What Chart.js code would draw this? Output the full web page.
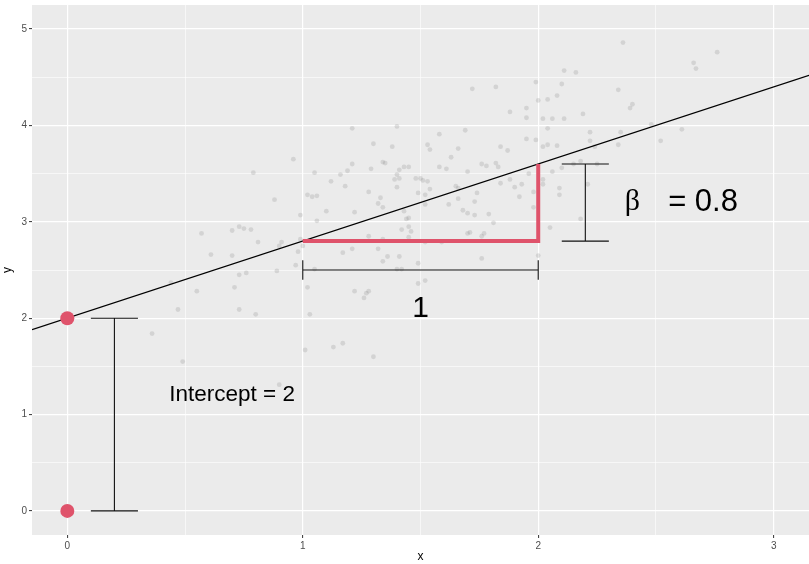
<!DOCTYPE html>
<html>
<head>
<meta charset="utf-8">
<script src="https://cdn.jsdelivr.net/npm/chart.js@4.4.1/dist/chart.umd.min.js"></script>
<style>
  html, body { margin: 0; padding: 0; background: #fff; }
  #cadre { width: 809px; height: 564px; }
</style>
</head>
<body>
<div id="cadre"><canvas id="graphique"></canvas></div>
<script>
/* Régression simple : nuage simulé, droite y = 2 + 0.8x, ordonnée à l'origine et pente */

const simX = [
  0.36, 0.44, 0.47, 0.49, 0.55, 0.57, 0.61, 0.70, 0.70, 0.71,
  0.73, 0.73, 0.73, 0.75, 0.76, 0.78, 0.79, 0.80, 0.81, 0.88,
  0.89, 0.90, 0.90, 0.91, 0.96, 0.97, 0.98, 0.99, 0.99, 1.00,
  1.01, 1.02, 1.03, 1.05, 1.05, 1.06, 1.10, 1.02, 1.04, 1.06,
  1.12, 1.13, 1.16, 1.17, 1.17, 1.18, 1.19, 1.21, 1.21, 1.21,
  1.22, 1.22, 1.26, 1.27, 1.28, 1.28, 1.28, 1.29, 1.30, 1.30,
  1.32, 1.32, 1.33, 1.34, 1.34, 1.34, 1.34, 1.35, 1.36, 1.38,
  1.39, 1.40, 1.40, 1.40, 1.40, 1.41, 1.41, 1.41, 1.42, 1.42,
  1.43, 1.43, 1.44, 1.45, 1.45, 1.45, 1.45, 1.46, 1.48, 1.49,
  1.49, 1.49, 1.50, 1.51, 1.52, 1.52, 1.52, 1.52, 1.53, 1.53,
  1.54, 1.54, 1.58, 1.58, 1.59, 1.61, 1.62, 1.63, 1.65, 1.66,
  1.66, 1.66, 1.68, 1.69, 1.70, 1.70, 1.70, 1.71, 1.72, 1.73,
  1.73, 1.74, 1.76, 1.76, 1.76, 1.77, 1.78, 1.79, 1.81, 1.82,
  1.82, 1.83, 1.84, 1.84, 1.87, 1.88, 1.88, 1.90, 1.92, 1.93,
  1.95, 1.95, 1.95, 1.96, 1.98, 1.98, 1.99, 1.99, 2.00, 2.00,
  2.02, 2.02, 2.02, 2.02, 2.04, 2.04, 2.04, 2.05, 2.06, 2.06,
  2.08, 2.08, 2.09, 2.09, 2.10, 2.10, 2.11, 2.11, 2.15, 2.16,
  2.18, 2.18, 2.19, 2.21, 2.22, 2.22, 2.24, 2.25, 2.34, 2.34,
  2.35, 2.36, 2.39, 2.40, 2.48, 2.52, 2.61, 2.66, 2.67, 2.76
];
const simY = [
  1.84, 2.37, 2.09, 1.55, 2.28, 2.88, 2.66, 2.91, 2.65, 2.32,
  2.95, 2.45, 2.09, 2.93, 2.47, 2.92, 3.51, 2.04, 2.79, 3.23,
  2.49, 2.75, 1.31, 2.79, 3.65, 2.55, 2.69, 2.82, 3.07, 2.75,
  1.67, 2.32, 2.04, 2.51, 3.51, 3.01, 3.11, 3.28, 3.26, 3.27,
  3.42, 1.70, 3.49, 2.68, 1.74, 3.37, 3.53, 3.97, 3.60, 2.72,
  3.10, 2.28, 2.21, 2.26, 3.31, 2.85, 2.28, 3.55, 1.60, 3.81,
  2.72, 3.19, 3.25, 3.62, 2.59, 2.82, 3.15, 3.61, 2.64, 3.78,
  3.44, 2.51, 3.99, 3.36, 3.49, 3.54, 3.45, 2.64, 2.51, 2.92,
  3.11, 3.57, 3.03, 2.95, 3.04, 2.84, 3.57, 2.90, 3.45, 2.36,
  3.30, 2.57, 3.45, 3.43, 3.18, 2.79, 3.28, 2.39, 3.80, 3.42,
  3.34, 3.75, 3.91, 3.57, 2.79, 3.55, 3.18, 3.67, 3.37, 3.35,
  3.76, 3.24, 3.12, 3.95, 3.52, 2.88, 3.09, 2.89, 4.38, 3.21,
  3.07, 3.30, 2.62, 3.60, 2.85, 2.88, 3.58, 3.08, 2.99, 4.40,
  3.61, 3.57, 3.78, 3.40, 3.74, 3.44, 4.14, 3.36, 3.26, 3.39,
  4.18, 3.86, 4.08, 3.50, 3.31, 3.15, 4.45, 3.85, 2.65, 4.26,
  3.39, 4.07, 3.44, 3.78, 3.97, 4.27, 3.80, 2.94, 4.07, 3.52,
  4.31, 3.79, 3.28, 3.35, 4.43, 3.56, 4.57, 4.07, 3.60, 4.55,
  3.03, 3.63, 4.12, 3.39, 3.93, 3.84, 3.78, 3.60, 3.80, 4.37,
  3.93, 4.86, 4.18, 4.22, 4.01, 3.84, 3.96, 4.65, 4.59, 4.76
];

const ordonnee = 2;
const pente = 0.8;

const xTicks = [0, 1, 2, 3];
const yTicks = [0, 1, 2, 3, 4, 5];
const xMinor = [0.5, 1.5, 2.5];
const yMinor = [0.5, 1.5, 2.5, 3.5, 4.5];
const xLimites = [-0.15, 3.15];
const yLimites = [-0.25, 5.25];

// points rouges : (0,0) et (0, ordonnée)
const rougeX = [0, 0];
const rougeY = [0, ordonnee];

// angle de la pente
const angleX = [1, 2, 2];
const angleY = [ordonnee + pente * 1, ordonnee + pente * 1, ordonnee + pente * 2];

const textes = [
  { texte: 'Intercept = 2', x: 0.7, y: 1.2, taille: 22.5, police: 'Liberation Sans' },
  { texte: '1', x: 1.5, y: 2.1, taille: 30, police: 'Liberation Sans' },
  { texte: 'β', x: 2.4, y: 3.2, taille: 30, police: 'Liberation Serif' },
  { texte: '= 0.8', x: 2.7, y: 3.2, taille: 31, police: 'Liberation Sans' }
];

const ROUGE = '#DF536B';
const GRIS_TEXTE = '#4D4D4D';

// barre verticale avec chapeaux (null = coupure)
function barreV(x, y0, y1, demi) {
  return [
    { x: x - demi, y: y0 }, { x: x + demi, y: y0 }, { x: x, y: null },
    { x: x, y: y0 }, { x: x, y: y1 }, { x: x, y: null },
    { x: x - demi, y: y1 }, { x: x + demi, y: y1 }
  ];
}
function barreH(y, x0, x1, demi) {
  return [
    { x: x0, y: y - demi }, { x: x0, y: y + demi }, { x: x0, y: null },
    { x: x0, y: y }, { x: x1, y: y }, { x: x1, y: null },
    { x: x1, y: y - demi }, { x: x1, y: y + demi }
  ];
}

const fondPanneau = {
  id: 'fondPanneau',
  beforeDraw(chart) {
    const { ctx, chartArea: a } = chart;
    ctx.save();
    ctx.fillStyle = '#EBEBEB';
    ctx.fillRect(a.left, a.top, a.right - a.left, a.bottom - a.top);
    ctx.restore();
  }
};

const annotations = {
  id: 'annotations',
  afterDatasetsDraw(chart) {
    const { ctx, scales } = chart;
    ctx.save();
    ctx.fillStyle = '#000';
    ctx.textAlign = 'center';
    ctx.textBaseline = 'middle';
    textes.forEach(t => {
      ctx.font = t.taille + 'px "' + t.police + '"';
      ctx.fillText(t.texte, scales.x.getPixelForValue(t.x), scales.y.getPixelForValue(t.y));
    });
    ctx.restore();
  }
};

function axe(limites, majeurs, mineurs, titre) {
  return {
    type: 'linear',
    min: limites[0],
    max: limites[1],
    afterBuildTicks: a => {
      a.ticks = majeurs.concat(mineurs).sort((p, q) => p - q).map(v => ({ value: v }));
    },
    ticks: {
      callback: v => majeurs.includes(v) ? String(v) : '',
      color: GRIS_TEXTE,
      font: { family: 'Liberation Sans', size: 10 },
      padding: 2,
      autoSkip: false,
      maxRotation: 0
    },
    grid: {
      color: '#FFFFFF',
      lineWidth: c => majeurs.includes(c.tick.value) ? 1.2 : 0.6,
      tickColor: c => majeurs.includes(c.tick.value) ? '#333333' : 'rgba(0,0,0,0)',
      tickWidth: 1,
      tickLength: 3,
      drawTicks: true
    },
    border: { display: false },
    title: {
      display: true,
      text: titre,
      color: '#000',
      font: { family: 'Liberation Sans', size: 12 },
      padding: 0
    }
  };
}

// tailles fixes des axes, sans marge ajoutée pour les étiquettes
const echelleX = axe(xLimites, xTicks, xMinor, 'x');
echelleX.afterFit = a => { a.height = 29; a.paddingLeft = 0; a.paddingRight = 0; };
const echelleY = axe(yLimites, yTicks, yMinor, 'y');
echelleY.afterFit = a => { a.width = 32; a.paddingTop = 0; a.paddingBottom = 0; };

new Chart(document.getElementById('graphique').getContext('2d'), {
  type: 'scatter',
  data: {
    datasets: [
      {
        label: 'rouges',
        data: rougeX.map((x, i) => ({ x, y: rougeY[i] })),
        backgroundColor: ROUGE,
        borderWidth: 0,
        pointRadius: 7,
        order: 1
      },
      {
        label: 'pente',
        data: angleX.map((x, i) => ({ x, y: angleY[i] })),
        showLine: true,
        borderColor: ROUGE,
        borderWidth: 4,
        borderJoinStyle: 'miter',
        pointRadius: 0,
        order: 2
      },
      {
        label: 'barres',
        data: barreV(0.2, 0, ordonnee, 0.1)
          .concat([{ x: 0, y: null }], barreH(2.5, 1, 2, 0.1))
          .concat([{ x: 0, y: null }], barreV(2.2, angleY[0], angleY[2], 0.1)),
        showLine: true,
        spanGaps: false,
        borderColor: '#111111',
        borderWidth: 1.1,
        pointRadius: 0,
        order: 3
      },
      {
        label: 'droite',
        data: xLimites.map(x => ({ x, y: ordonnee + pente * x })),
        showLine: true,
        borderColor: '#000000',
        borderWidth: 1.2,
        pointRadius: 0,
        order: 4
      },
      {
        label: 'simulés',
        data: simX.map((x, i) => ({ x, y: simY[i] })),
        backgroundColor: 'rgba(128,128,128,0.22)',
        borderWidth: 0,
        pointRadius: 2.4,
        order: 5
      }
    ]
  },
  options: {
    responsive: true,
    maintainAspectRatio: false,
    animation: false,
    layout: { autoPadding: false, padding: { top: 5, right: 0, left: 0, bottom: 0 } },
    plugins: { legend: { display: false }, tooltip: { enabled: false } },
    scales: { x: echelleX, y: echelleY }
  },
  plugins: [fondPanneau, annotations]
});
</script>
</body>
</html>
